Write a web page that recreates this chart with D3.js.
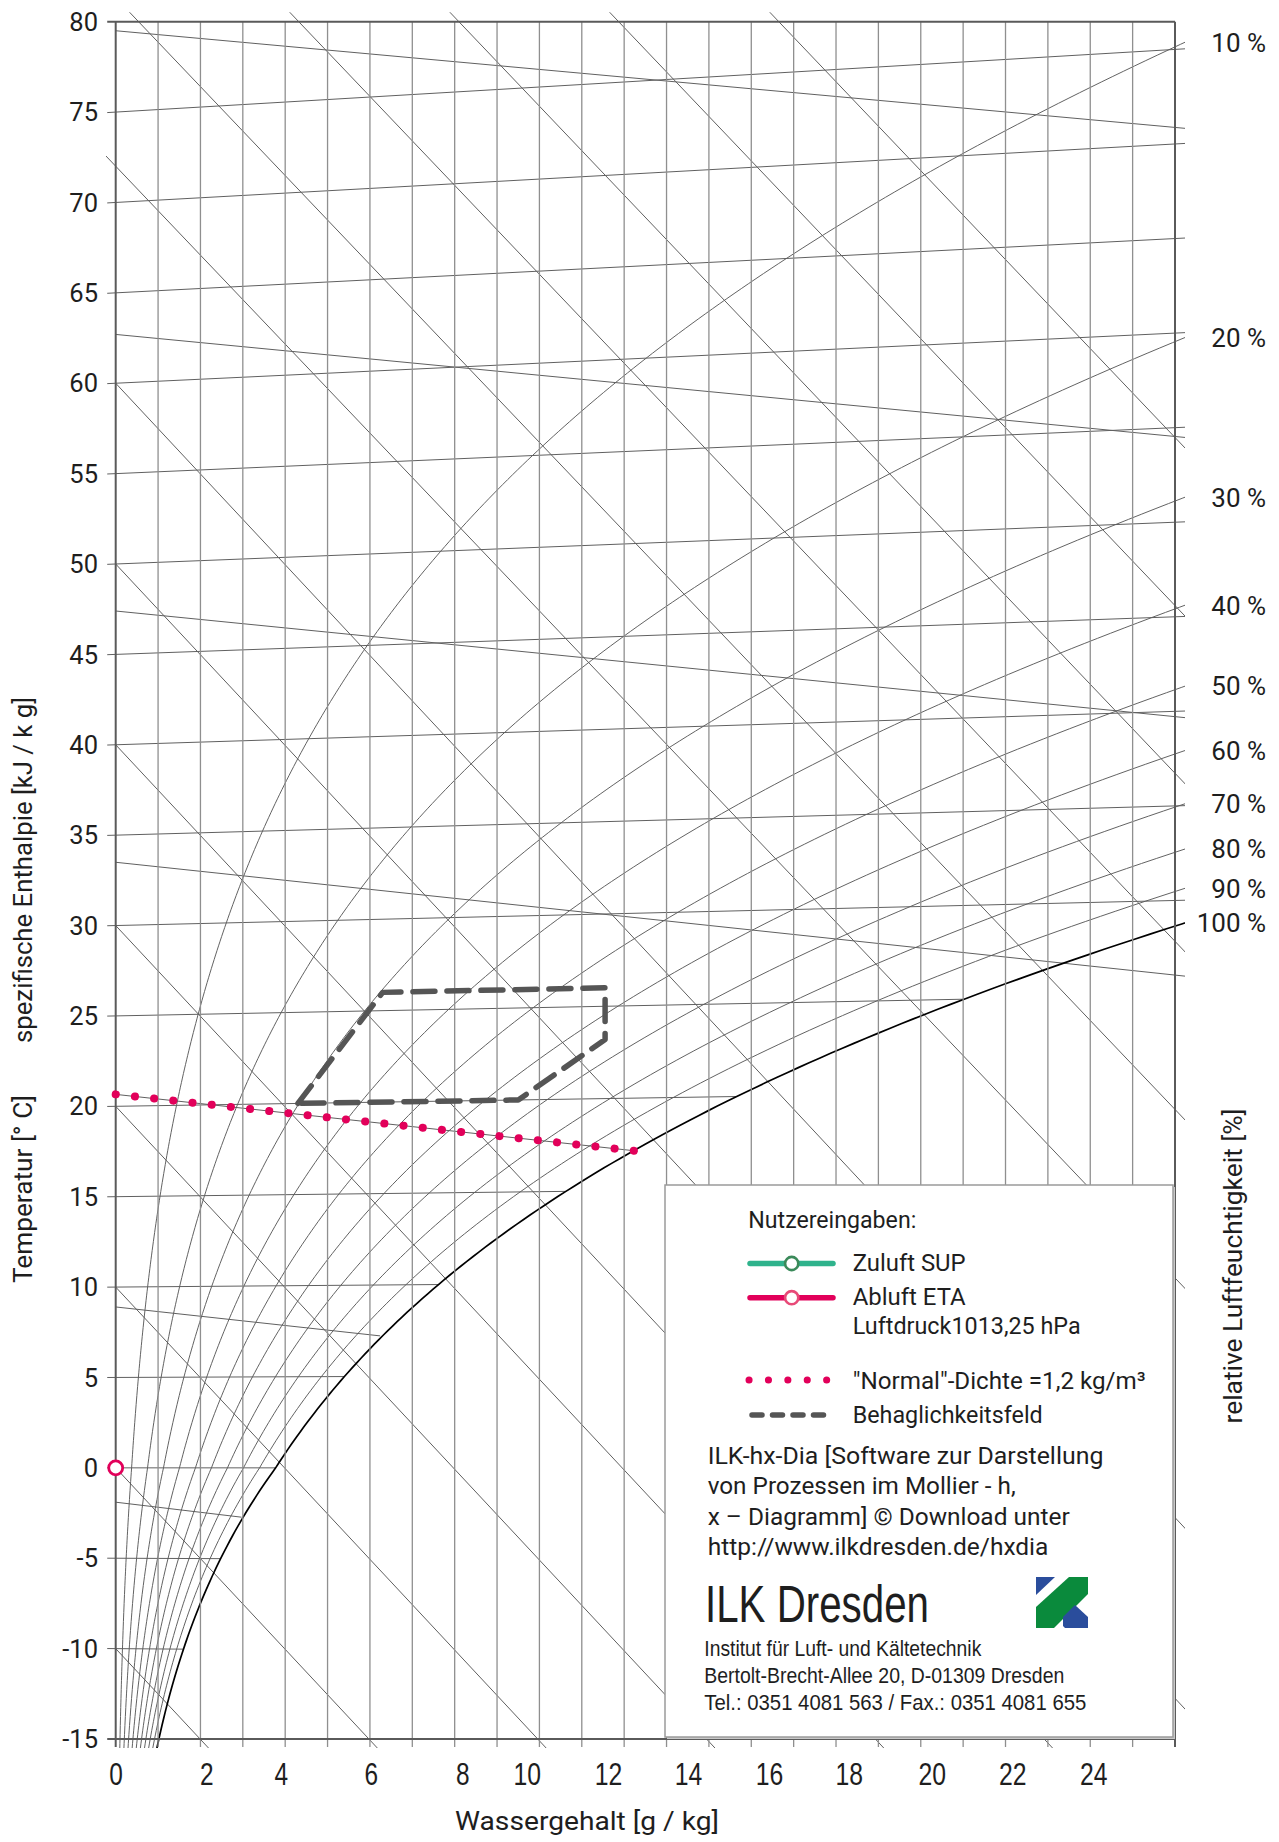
<!DOCTYPE html>
<html lang="de">
<head>
<meta charset="utf-8">
<title>h,x-Diagramm</title>
<script src="https://cdn.jsdelivr.net/npm/d3@7"></script>
<style>
html,body{margin:0;padding:0;background:#fff;}
svg{display:block;}
text{font-family:Roboto,"Noto Sans",sans-serif;fill:#1e1e1e;}
.narrow{font-family:"Liberation Sans Narrow","Liberation Sans",Arial,sans-serif;}
</style>
</head>
<body>
<svg id="chart" width="1279" height="1842"></svg>
<script>
// ================= DATA =================
const airPressure = 1013.25; // hPa (Luftdruck)
const waterContentGrid = [0,1,2,3,4,5,6,7,8,9,10,11,12,13,14,15,16,17,18,19,20,21,22,23,24,25];
const xTickLabels = ["0","2","4","6","8","10","12","14","16","18","20","22","24"];
const xTickLabelAt = [0.01,2.15,3.91,6.03,8.19,9.71,11.63,13.52,15.43,17.31,19.27,21.17,23.08];
const temperatureTicks = [-15,-10,-5,0,5,10,15,20,25,30,35,40,45,50,55,60,65,70,75,80];
const rhLevels = [0.1,0.2,0.3,0.4,0.5,0.6,0.7,0.8,0.9,1.0];
const rhLabels = ["10 %","20 %","30 %","40 %","50 %","60 %","70 %","80 %","90 %","100 %"];
// isenthalps starting at the temperature axis (°C at x = 0)
const enthalpyAxisStart = [-10,0,10,20,30,40,50,60];
// isenthalps entering through the top edge (g/kg where they cross the 80 °C level)
const enthalpyTopCross = [-3.25,0.54,4.32,8.10,11.87,15.65];
const enthalpySlopeAxis = -2.51;  // °C per g/kg
const enthalpySlopeTop = -2.46;
// density lines [kg/m³]: start temperature at x = 0 and end point
const densityValues = [1.00,1.05,1.10,1.15,1.20,1.25,1.30];
const densityStartT = [79.5,62.7,47.4,33.5,20.66,8.9,-1.9];
const densityEndX = [25.24,25.24,25.24,25.24,12.32,6.24,2.97];
const densityEndT = [74.1,57.0,41.5,27.2,17.52,7.3,-2.73];
// "Normal"-Dichte 1,2 kg/m³ (dotted)
const normalDensityX = [0,12.32];
const normalDensityT = [20.66,17.52];
// Behaglichkeitsfeld (comfort zone) vertices: x [g/kg], t [°C]
const comfortX = [4.3,6.3,11.55,11.55,9.5,4.3];
const comfortT = [20,26,26,23.2,20,20];
// Abluft ETA state point
const exhaustX = [0];
const exhaustT = [0];

// ================= SCALES =================
const svg = d3.select("#chart");
const xScale = d3.scaleLinear().domain([0,25]).range([115.7,1175]);
const yScale = d3.scaleLinear().domain([-15,80]).range([1739,21.7]);

function pSat(t){ return t>=0 ? 6.112*Math.exp(17.62*t/(243.12+t)) : 6.112*Math.exp(22.46*t/(272.62+t)); }
function xOf(t,phi){ const p=phi*pSat(t); return 622*p/(airPressure-p); }
function tau(t,x){ return t*(1+0.001849*x); } // Mollier skew: isotherm position
function tOfX(x,phi){ const pv=x*airPressure/(622+x); const l=Math.log(pv/phi/6.112); return 243.12*l/(17.62-l); }

const line = d3.line().x(d=>xScale(d[0])).y(d=>yScale(d[1]));

const defs = svg.append("defs");
defs.append("clipPath").attr("id","plotclip").append("rect")
  .attr("x",106).attr("y",12.3).attr("width",1079).attr("height",1735.7);

const plot = svg.append("g").attr("clip-path","url(#plotclip)");

// vertical grid (constant water content), extending as ticks below axis
svg.append("g").selectAll("line").data(waterContentGrid).join("line")
  .attr("x1",d=>xScale(d)).attr("x2",d=>xScale(d))
  .attr("y1",yScale(80)).attr("y2",yScale(-15)+8)
  .attr("stroke",d=>(d===0||d===25)?"#5a5a5a":"#8f8f8f")
  .attr("stroke-width",d=>(d===0||d===25)?2:1.3);

// isotherms
plot.append("g").selectAll("path").data(temperatureTicks.filter(t=>t>-15&&t<80)).join("path")
  .attr("d",t=>{ const xe=Math.min(25.24,xOf(t,1)); return line([[-0.2,tau(t,-0.2)],[xe,tau(t,xe)]]); })
  .attr("fill","none").attr("stroke","#606060").attr("stroke-width",1);

// density lines
plot.append("g").selectAll("path").data(densityValues).join("path")
  .attr("d",(d,i)=>line([[0,densityStartT[i]],[densityEndX[i],densityEndT[i]]]))
  .attr("fill","none").attr("stroke","#606060").attr("stroke-width",1);

// isenthalps
plot.append("g").selectAll("path").data(enthalpyAxisStart).join("path")
  .attr("d",t0=>line([[0,t0],[32,t0+enthalpySlopeAxis*32]]))
  .attr("fill","none").attr("stroke","#606060").attr("stroke-width",1);
plot.append("g").selectAll("path").data(enthalpyTopCross).join("path")
  .attr("d",x0=>line([[x0-6,80-enthalpySlopeTop*6],[x0+32,80+enthalpySlopeTop*32]]))
  .attr("fill","none").attr("stroke","#606060").attr("stroke-width",1);

// relative humidity curves
function rhCurve(phi){
  const pts=[];
  for(let t=-45;t<=100;t+=0.25){
    const x=xOf(t,phi); const ta=tau(t,x);
    pts.push([x,ta]);
    if(x>25.6||ta>81) break;
  }
  return pts;
}
plot.append("g").selectAll("path").data(rhLevels).join("path")
  .attr("d",phi=>line(rhCurve(phi)))
  .attr("fill","none")
  .attr("stroke",phi=>phi===1?"#000":"#5a5a5a")
  .attr("stroke-width",phi=>phi===1?1.7:0.95);

// frame top & bottom with ticks
svg.append("g").selectAll("line").data([80,-15]).join("line")
  .attr("x1",xScale(-0.2)).attr("x2",xScale(25))
  .attr("y1",d=>yScale(d)).attr("y2",d=>yScale(d))
  .attr("stroke","#5a5a5a").attr("stroke-width",2);

// y tick labels
svg.append("g").selectAll("text").data(temperatureTicks).join("text")
  .attr("x",98).attr("y",d=>yScale(d)).attr("dy","0.36em")
  .attr("text-anchor","end").attr("font-size",25.5).text(d=>d);

// x tick labels
svg.append("g").selectAll("text").data(xTickLabels).join("text")
  .attr("class","narrow")
  .attr("x",(d,i)=>xScale(xTickLabelAt[i])).attr("y",1785)
  .attr("text-anchor","middle").attr("font-size",31)
  .attr("textLength",d=>d.length>1?27.5:13.6).attr("lengthAdjust","spacingAndGlyphs")
  .text(d=>d);

// RH labels
svg.append("g").selectAll("text").data(rhLevels).join("text")
  .attr("x",1266)
  .attr("y",(phi)=>{ const t=tOfX(25.24,phi); return yScale(tau(t,25.24)); })
  .attr("dy","0.36em").attr("text-anchor","end").attr("font-size",26)
  .text((d,i)=>rhLabels[i]);

// axis titles
svg.append("text").attr("x",587).attr("y",1830).attr("text-anchor","middle")
  .attr("font-size",25.5).attr("textLength",264).attr("lengthAdjust","spacingAndGlyphs")
  .text("Wassergehalt [g / kg]");
svg.append("text").attr("transform","translate(31.7,1189) rotate(-90)").attr("text-anchor","middle")
  .attr("font-size",25.5).attr("textLength",188).attr("lengthAdjust","spacingAndGlyphs")
  .text("Temperatur [° C]");
svg.append("text").attr("transform","translate(31.7,870) rotate(-90)").attr("text-anchor","middle")
  .attr("font-size",25.5).attr("textLength",346).attr("lengthAdjust","spacingAndGlyphs")
  .text("spezifische Enthalpie [kJ / k g]");
svg.append("text").attr("transform","translate(1242,1266) rotate(-90)").attr("text-anchor","middle")
  .attr("font-size",25.5).attr("textLength",315).attr("lengthAdjust","spacingAndGlyphs")
  .text("relative Luftfeuchtigkeit [%]");

// comfort zone
const comfortPts = comfortX.map((x,i)=>[x,tau(comfortT[i],x)]);
svg.append("path").attr("d",line(comfortPts))
  .attr("fill","none").attr("stroke","#555").attr("stroke-width",5.5)
  .attr("stroke-dasharray","22 12").attr("stroke-linecap","round").attr("stroke-linejoin","round");

// normal density dotted line
svg.append("path").attr("d",line(normalDensityX.map((x,i)=>[x,normalDensityT[i]])))
  .attr("fill","none").attr("stroke","#e2005a").attr("stroke-width",8)
  .attr("stroke-dasharray","0.1 19.2").attr("stroke-linecap","round");

// exhaust air point
svg.append("g").selectAll("circle").data(exhaustX).join("circle")
  .attr("cx",d=>xScale(d)).attr("cy",(d,i)=>yScale(exhaustT[i])).attr("r",7)
  .attr("fill","#fff").attr("stroke","#e2005a").attr("stroke-width",2.8);

// ================= LEGEND BOX =================
const lg = svg.append("g");
lg.append("rect").attr("x",667).attr("y",1187).attr("width",508).attr("height",552).attr("fill","#c8c8c8");
lg.append("rect").attr("x",665).attr("y",1185).attr("width",508).attr("height",552)
  .attr("fill","#fff").attr("stroke","#9a9a9a").attr("stroke-width",1.5);

function ltext(x,y,s,len,size,cls){
  const t=lg.append("text").attr("x",x).attr("y",y).attr("font-size",size||23.5).text(s);
  if(len) t.attr("textLength",len).attr("lengthAdjust","spacingAndGlyphs");
  if(cls) t.attr("class",cls);
  return t;
}
ltext(748.3,1228.3,"Nutzereingaben:",168);
lg.append("line").attr("x1",750).attr("x2",833).attr("y1",1263.5).attr("y2",1263.5)
  .attr("stroke","#2fb38c").attr("stroke-width",5.5).attr("stroke-linecap","round");
lg.append("circle").attr("cx",791.7).attr("cy",1263.5).attr("r",6.6).attr("fill","#fff").attr("stroke","#3b8a5a").attr("stroke-width",2.6);
ltext(852.7,1270.7,"Zuluft SUP",113);
lg.append("line").attr("x1",750).attr("x2",833).attr("y1",1297.7).attr("y2",1297.7)
  .attr("stroke","#e2005a").attr("stroke-width",5.5).attr("stroke-linecap","round");
lg.append("circle").attr("cx",791.7).attr("cy",1297.7).attr("r",6.6).attr("fill","#fff").attr("stroke","#e84a78").attr("stroke-width",2.6);
ltext(852.7,1305,"Abluft ETA",113);
ltext(852.7,1333.5,"Luftdruck1013,25 hPa",228);
lg.append("line").attr("x1",749).attr("x2",835).attr("y1",1380).attr("y2",1380)
  .attr("stroke","#e2005a").attr("stroke-width",7).attr("stroke-dasharray","0.1 19.3").attr("stroke-linecap","round");
ltext(852.7,1388.5,"\"Normal\"-Dichte =1,2 kg/m³",293);
lg.append("line").attr("x1",752).attr("x2",832).attr("y1",1415).attr("y2",1415)
  .attr("stroke","#555").attr("stroke-width",5.5).attr("stroke-dasharray","10 10.5").attr("stroke-linecap","round");
ltext(852.7,1422.7,"Behaglichkeitsfeld",190);
ltext(707.7,1464,"ILK-hx-Dia [Software zur Darstellung",395.7);
ltext(707.7,1494.3,"von Prozessen im Mollier - h,",308);
ltext(707.7,1525,"x – Diagramm] © Download unter",362);
ltext(707.7,1555,"http://www.ilkdresden.de/hxdia",340.7);
ltext(705,1621.7,"ILK Dresden",224,51,"narrow");
ltext(704.3,1656,"Institut für Luft- und Kältetechnik",277,22.3,"narrow");
ltext(704.3,1683.3,"Bertolt-Brecht-Allee 20, D-01309 Dresden",360,22.3,"narrow");
ltext(704.3,1710,"Tel.: 0351 4081 563 / Fax.: 0351 4081 655",382,22.3,"narrow");

// logo
const logo = lg.append("g").attr("transform","translate(1036,1577)");
logo.append("polygon").attr("points","0,0 19,0 0,18").attr("fill","#2a4d9c");
logo.append("polygon").attr("points","0,30 33,0 52,0 52,17 18,51 0,51").attr("fill","#0a8a3c");
logo.append("polygon").attr("points","27,40 39,28 52,40 52,51 29,51 27,49").attr("fill","#2a4d9c");
</script>
</body>
</html>
